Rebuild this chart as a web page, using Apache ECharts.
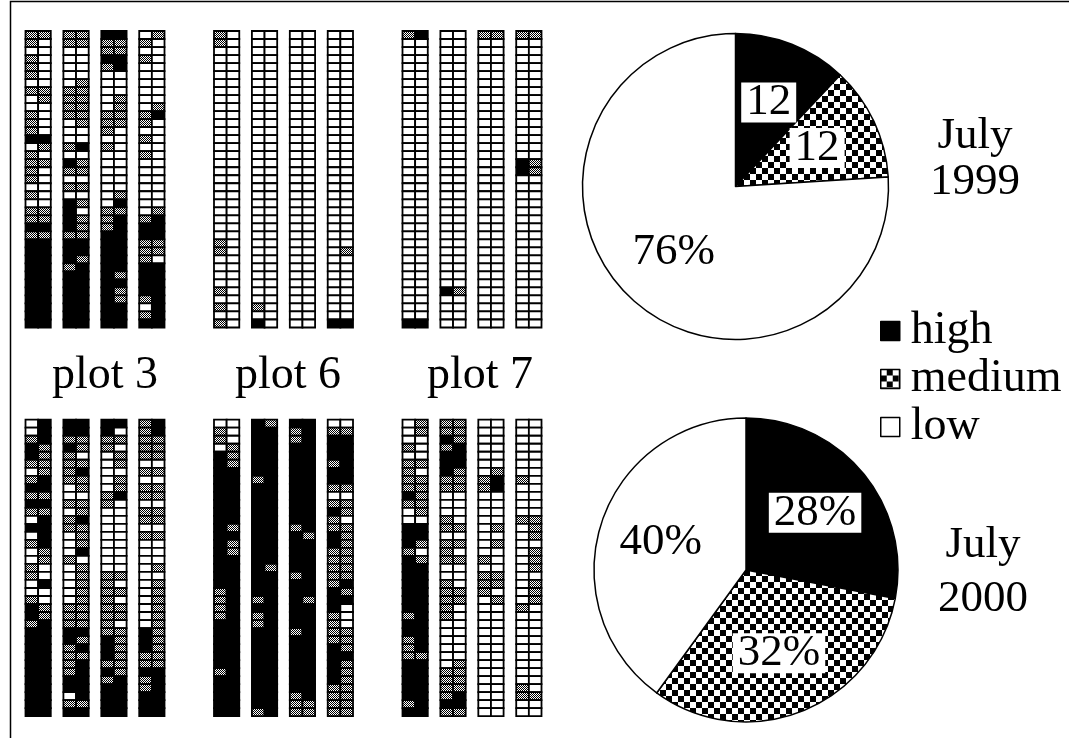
<!DOCTYPE html>
<html>
<head>
<meta charset="utf-8">
<script src="https://cdn.jsdelivr.net/npm/echarts@6/dist/echarts.min.js"></script>
<style>html,body{margin:0;padding:0;background:#fff}#c{width:1069px;height:738px}</style>
</head>
<body>
<div id="c"></div>
<script>
// ---- cell data: each string = one column (37 rows, top to bottom), tokens = left/right cell
// H = high, M = medium, L = low
const top3 = [
  "MM ML LL ML ML ML LL MM LM LL | ML ML ML HH LM ML MM ML ML LL | ML LL MM MM HH MM HH HH HH HH | HH HH HH HH HH HH HH",
  "MM MM LL LL LL LL LM MM MM MM | MM LM LL LL MH LL HM MM LL MM | LL HM HL HM HM MM HH HH HM MH | HH HH HH HH HH HH HH",
  "HH MM MM HH MH LL LL LL LM LM | MM MM ML LL ML LL LL LL LL LL | LM LH MM MH MH HH HH HH HH HH | HM HH HM HM HH HH HH",
  "LM ML LL ML LL LL LL LL LL LM | MH ML LL ML LL ML LL LL LL LL | LL LL LM MH HH HH MM MM ML HH | HH HH HH MH LH MH HH"
];
const top6 = [
  "ML ML LL LL LL LL LL LL LL LL | LL LL LL LL LL LL LL LL LL LL | LL LL LL LL LL LL ML ML LL LL | LL LL ML LL ML LL ML",
  "LL LL LL LL LL LL LL LL LL LL | LL LL LL LL LL LL LL LL LL LL | LL LL LL LL LL LL LL LL LL LL | LL LL LL LL ML LL HL",
  "LL LL LL LL LL LL LL LL LL LL | LL LL LL LL LL LL LL LL LL LL | LL LL LL LL LL LL LL LL LL LL | LL LL LL LL LL LL LL",
  "LL LL LL LL LL LL LL LL LL LL | LL LL LL LL LL LL LL LL LL LL | LL LL LL LL LL LL LL LM LL LL | LL LL LL LL LL LL HH"
];
const top7 = [
  "MH LL LL LL LL LL LL LL LL LL | LL LL LL LL LL LL LL LL LL LL | LL LL LL LL LL LL LL LL LL LL | LL LL LL LL LL LL HH",
  "LL LL LL LL LL LL LL LL LL LL | LL LL LL LL LL LL LL LL LL LL | LL LL LL LL LL LL LL LL LL LL | LL LL HM LL LL LL LL",
  "MM LL LL LL LL LL LL LL LL LL | LL LL LL LL LL LL LL LL LL LL | LL LL LL LL LL LL LL LL LL LL | LL LL LL LL LL LL LL",
  "MM LL LL LL LL LL LL LL LL LL | LL LL LL LL LL LL HM HM LL LL | LL LL LL LL LL LL LL LL LL LL | LL LL LL LL LL LL LL"
];
const bot3 = [
  "LH LH MH HM HM MM LM MH HH MM | HH MM LH HH LH MH LM LM ML ML | LH LL ML HM HM MH HH HH HH HH | HH HH HH HH HH HH HH",
  "HH HH MM HM ML MM MH MM LM LL | MM LM MH MM LM LM LH ML LM LM | LM LM LM MM MM MM HH HM MH MM | MH MH HH HH LH MM HH",
  "HH HL MM ML LM LM LL LM LM MH | ML LL LL LL LL LL LL LL LL MM | ML MM ML MM MM ML MM HM HM HM | MM HM MH HH HH HH HH",
  "MH MH MM MM MM LL MM LL MM MM | LL MM MM LL MM LL LL LL LM LL | LM LM LM LM LM LM HM HM HM MM | MM HH MH MH HH HH HH"
];
const bot6 = [
  "LL ML ML LM HM HM HH HH HH HH | HH HH HH HM HH HM HM HH HH HH | HH MH MH MH MH HH HH HH HH HH | HH MH HH HH HH HH HH",
  "HM HH HH HH HH HH HH MH HH HH | HH HH HH HH HH HH HH HH HM HH | HH HH MH HH MH MH HH HH HH HH | HH HH HH HH HH HH MH",
  "HH MH MH HH HH HH HH HH HH HH | HH HH HH MH HM HH HH HH HH MH | HH HH HM HH HH HH MH HH HH HH | HH HH HH HH MH MM MM",
  "LL MM HH HH HH MH HH HH MM LL | MM HM ML MM HM HM MM MM MM MM | MH HM HH HL ML ML MM MM HM HH | HM HM HM MM MM MM MM"
];
const bot7 = [
  "LM LM LL ML LL MM ML MM MM HM | MM LM LL HH HH HM ML HM HH HH | HH HH HH HH MH HH HH MH MH MM | HH HH HH HH HH MH HH",
  "MM MM HM MH HH HH HM MM MM LL | LL LL ML MM LL MM ML MM LL LL | ML MM MM ML ML LL LL LL LL LL | LM MM MM MM MH HH MM",
  "LL LL LL LL LL LL LM MH MH LL | LL LL LL LM LL LM LL ML LL MM | MM ML LM LL LL LL LL LL LL LL | LL LL LL LL LL LL LL",
  "LL LL LL LL LL LL LL ML LL LL | LL LL MM LM LM LL LM LM LM LL | LM LM LM ML LL LL LL LL LL LL | LL LL LL ML MM LL LL"
];
const plotLabels = ["plot 3", "plot 6", "plot 7"];

// ---- pie data
const levels = ["high", "medium", "low"];
const july1999 = [12, 12, 76];
const july2000 = [28, 32, 40];
const labels1999 = ["12", "12", "76%"];
const labels2000 = ["28%", "32%", "40%"];
const pieTitles = [["July", "1999"], ["July", "2000"]];

// ---- rendering
const FONT = "'Liberation Serif', 'DejaVu Serif', serif";
function makeCanvas(size, draw) {
  const c = document.createElement('canvas');
  c.width = c.height = size;
  draw(c.getContext('2d'));
  return c;
}
const cellPat = makeCanvas(2, g => {
  g.fillStyle = '#fff'; g.fillRect(0, 0, 2, 2);
  g.fillStyle = '#000'; g.fillRect(0, 0, 1, 1); g.fillRect(1, 1, 1, 1);
});
const piePat = makeCanvas(12, g => {
  g.fillStyle = '#000'; g.fillRect(0, 0, 12, 12);
  g.fillStyle = '#fff'; g.fillRect(0, 0, 6, 6); g.fillRect(6, 6, 6, 6);
});
const cellFill = { H: '#000', M: { image: cellPat, repeat: 'repeat' }, L: '#fff' };
const pieColors = ['#000', { image: piePat, repeat: 'repeat' }, '#fff'];

function parseCol(s) { return s.split(/\s+/).filter(t => t && t !== '|'); }

const blocks = [top3, top6, top7, bot3, bot6, bot7];
const gridLefts = [25.5, 214, 402.5];
const gridTops = [31, 419.7];
const grids = [], xAxes = [], yAxes = [], series = [];
blocks.forEach((cols, bi) => {
  grids.push({ left: gridLefts[bi % 3], top: gridTops[Math.floor(bi / 3)], width: 139, height: 296.5 });
  xAxes.push({ gridIndex: bi, type: 'value', min: 0, max: 11, show: false });
  yAxes.push({ gridIndex: bi, type: 'value', min: 0, max: 37, inverse: true, show: false });
  const data = [];
  cols.forEach((colStr, ci) => {
    parseCol(colStr).forEach((tok, row) => {
      data.push([ci * 3, row, tok[0]]);
      data.push([ci * 3 + 1, row, tok[1]]);
    });
  });
  series.push({
    type: 'custom', xAxisIndex: bi, yAxisIndex: bi, silent: true,
    dimensions: ['x', 'row', 'state'],
    encode: { x: 0, y: 1 },
    data: data,
    renderItem: function (params, api) {
      const x = api.value(0), r = api.value(1);
      const st = data[params.dataIndex][2];
      const p0 = api.coord([x, r]), p1 = api.coord([x + 1, r + 1]);
      return {
        type: 'rect',
        shape: { x: p0[0], y: p0[1], width: p1[0] - p0[0], height: p1[1] - p0[1] },
        style: { fill: cellFill[st], stroke: '#000', lineWidth: 1.8 }
      };
    }
  });
});

const pies = [
  { center: [735.5, 186.5], r: 153, values: july1999, labels: labels1999 },
  { center: [746, 570], r: 152, values: july2000, labels: labels2000 }
];
pies.forEach(p => {
  series.push({
    type: 'pie', center: p.center, radius: p.r, startAngle: 90, clockwise: true,
    silent: true, label: { show: false }, labelLine: { show: false },
    itemStyle: { borderColor: '#000', borderWidth: 1.5 },
    data: levels.map((n, i) => ({ name: n, value: p.values[i], itemStyle: { color: pieColors[i] } }))
  });
});
pies.forEach(p => {
  series.push({
    type: 'pie', center: p.center, radius: p.r * 1.14, startAngle: 90, clockwise: true,
    silent: true, labelLine: { show: false },
    itemStyle: { color: 'rgba(0,0,0,0)', borderWidth: 0 },
    label: {
      show: true, position: 'inside', color: '#000', backgroundColor: '#fff',
      fontFamily: FONT, fontSize: 45, lineHeight: 40, padding: [0, 5],
      formatter: prm => p.labels[prm.dataIndex]
    },
    data: levels.map((n, i) => ({ name: n, value: p.values[i] }))
  });
});

const textEls = [];
const plotX = [105, 288, 480];
plotLabels.forEach((t, i) => textEls.push({ type: 'text', x: plotX[i], y: 376, style: { text: t, font: '46px ' + FONT, fill: '#000', textAlign: 'center', textVerticalAlign: 'middle' } }));
const titlePos = [[975, 136, 182], [983, 545, 599]];
pieTitles.forEach((lines, i) => {
  textEls.push({ type: 'text', x: titlePos[i][0], y: titlePos[i][1], style: { text: lines[0], font: '45px ' + FONT, fill: '#000', textAlign: 'center', textVerticalAlign: 'middle' } });
  textEls.push({ type: 'text', x: titlePos[i][0], y: titlePos[i][2], style: { text: lines[1], font: '45px ' + FONT, fill: '#000', textAlign: 'center', textVerticalAlign: 'middle' } });
});
textEls.push({ type: 'rect', shape: { x: 10.5, y: 1.5, width: 1200, height: 900 }, style: { fill: 'none', stroke: '#000', lineWidth: 1.5 }, silent: true });

const chart = echarts.init(document.getElementById('c'), null, { renderer: 'canvas' });
chart.setOption({
  animation: false,
  backgroundColor: '#fff',
  grid: grids, xAxis: xAxes, yAxis: yAxes,
  legend: {
    data: levels, orient: 'vertical', left: 875, top: 303, icon: 'rect',
    itemWidth: 19, itemHeight: 19, itemGap: 2, selectedMode: false,
    itemStyle: { borderColor: '#000', borderWidth: 1.5 },
    textStyle: { fontFamily: FONT, fontSize: 46, color: '#000', lineHeight: 40, padding: [0, 0, 0, 6] }
  },
  graphic: textEls,
  series: series
});
</script>
</body>
</html>
